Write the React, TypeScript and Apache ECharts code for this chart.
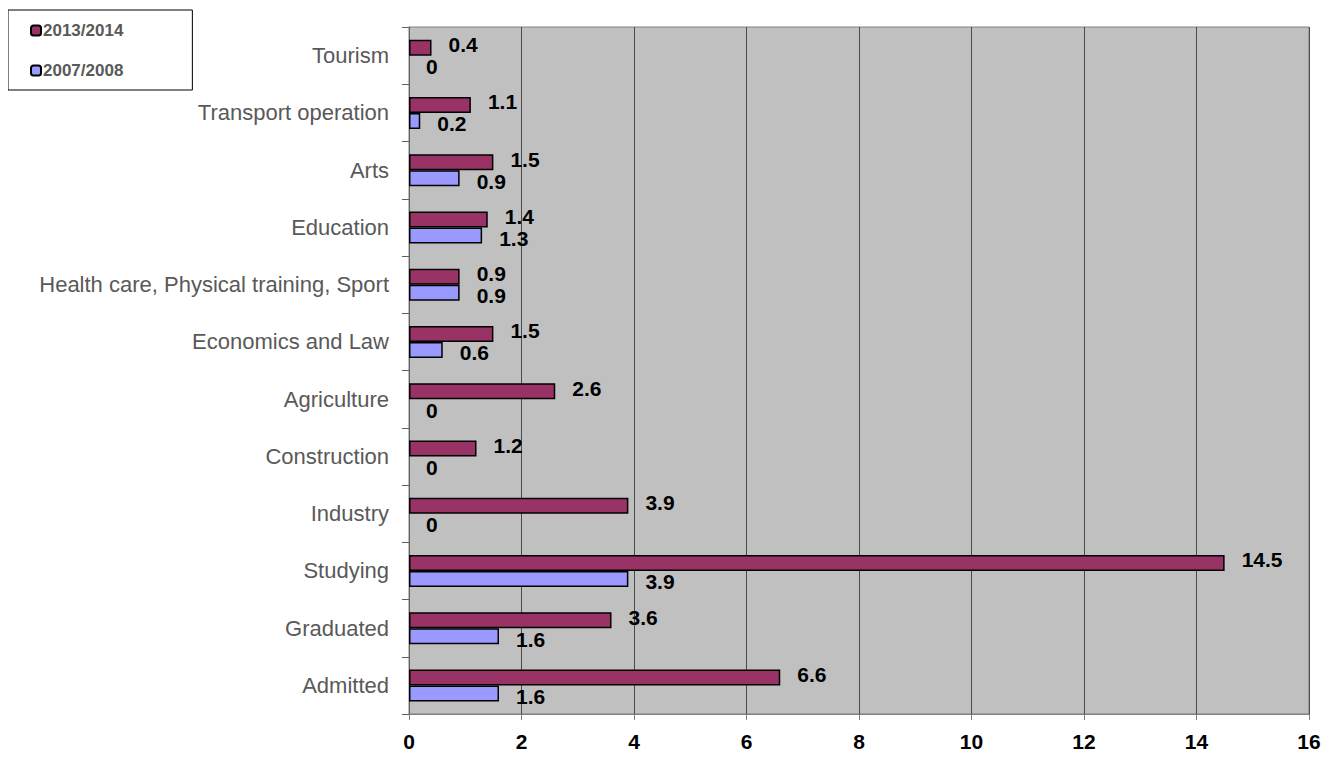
import React, { useEffect, useRef } from "react";
import * as echarts from "echarts";

const categories = [
  "Admitted",
  "Graduated",
  "Studying",
  "Industry",
  "Construction",
  "Agriculture",
  "Economics and Law",
  "Health care, Physical training, Sport",
  "Education",
  "Arts",
  "Transport operation",
  "Tourism",
];
const seriesNames = ["2013/2014", "2007/2008"];
const values2013 = [6.6, 3.6, 14.5, 3.9, 1.2, 2.6, 1.5, 0.9, 1.4, 1.5, 1.1, 0.4];
const values2007 = [1.6, 1.6, 3.9, 0, 0, 0, 0.6, 0.9, 1.3, 0.9, 0.2, 0];
const xTicks = { min: 0, max: 16, interval: 2 };

const FONT = "Arial, 'Liberation Sans', sans-serif";

function toItems(values: number[]) {
  // zero-length bars are not drawn (no border) in the reference
  return values.map((v) => (v === 0 ? { value: v, itemStyle: { borderWidth: 0 } } : v));
}

export default function App() {
  const ref = useRef<HTMLDivElement>(null);
  useEffect(() => {
    if (!ref.current) return;
    const chart = echarts.init(ref.current, null, { renderer: "svg" });
    const labelStyle = {
      show: true,
      position: "right",
      distance: 17,
      fontFamily: FONT,
      fontSize: 21,
      lineHeight: 21,
      fontWeight: "bold",
      color: "#000",
    };
    chart.setOption({
      animation: false,
      backgroundColor: "#fff",
      textStyle: { fontFamily: FONT },
      legend: {
        orient: "vertical",
        left: 0,
        top: 2,
        padding: [12, 69, 11, 22],
        itemGap: 23,
        itemWidth: 10,
        itemHeight: 10,
        backgroundColor: "#fff",
        borderColor: "#000",
        borderWidth: 1,
        textStyle: {
          fontFamily: FONT,
          fontSize: 17,
          fontWeight: "bold",
          color: "#595959",
          padding: [0, 0, 0, -3],
        },
        data: seriesNames,
      },
      grid: {
        left: 401,
        right: 17,
        top: 19,
        bottom: 29,
        show: true,
        backgroundColor: "#C0C0C0",
        borderColor: "#808080",
        borderWidth: 1,
      },
      xAxis: {
        type: "value",
        min: xTicks.min,
        max: xTicks.max,
        interval: xTicks.interval,
        axisLine: { show: true, lineStyle: { color: "#808080", width: 1 } },
        axisTick: { show: true, length: 6, lineStyle: { color: "#808080" } },
        splitLine: { show: true, lineStyle: { color: "#4a4a4a", width: 1 } },
        axisLabel: {
          margin: 17,
          fontFamily: FONT,
          fontSize: 21,
          fontWeight: "bold",
          color: "#000",
        },
      },
      yAxis: {
        type: "category",
        data: categories,
        axisLine: { show: true, lineStyle: { color: "#606060", width: 1 } },
        axisTick: { show: true, length: 7, lineStyle: { color: "#606060" } },
        splitLine: { show: false },
        axisLabel: {
          margin: 20,
          fontFamily: FONT,
          fontSize: 22,
          color: "#595959",
        },
      },
      series: [
        {
          name: seriesNames[0],
          type: "bar",
          data: toItems(values2013),
          barWidth: 16,
          barGap: "0%",
          itemStyle: { color: "#993366", borderColor: "#000", borderWidth: 1.5 },
          label: { ...labelStyle, offset: [0, -3] },
        },
        {
          name: seriesNames[1],
          type: "bar",
          data: toItems(values2007),
          barWidth: 16,
          barGap: "0%",
          itemStyle: { color: "#9999FF", borderColor: "#000", borderWidth: 1.5 },
          label: { ...labelStyle, offset: [0, 3] },
        },
      ],
    });
    return () => chart.dispose();
  }, []);
  return <div ref={ref} style={{ width: 1318, height: 744 }} />;
}
